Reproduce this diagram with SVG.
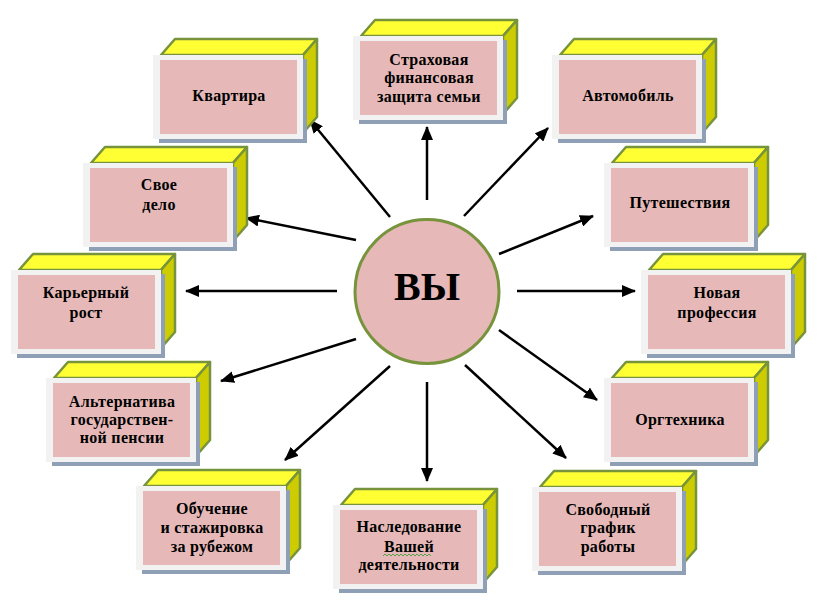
<svg xmlns="http://www.w3.org/2000/svg" xmlns:xlink="http://www.w3.org/1999/xlink" width="824" height="606" viewBox="0 0 824 606">
<style>
.top{fill:#ffff33;stroke:#77933c;stroke-width:2.5;stroke-linejoin:round}
.side{fill:#cccc00;stroke:#77933c;stroke-width:2.5;stroke-linejoin:round}
.shadow{fill:#8f9fb5}
.frame{fill:#f2f2f2}
.inner{fill:#e6b9b8}
.lbl{font-family:"Liberation Serif","Times New Roman",serif;font-weight:bold;font-size:16px;fill:#000;text-anchor:middle;letter-spacing:0.3px}
.arrow{stroke:#000;stroke-width:2.5;fill:none;marker-end:url(#ah)}
</style>
<defs>
<marker id="ah" markerUnits="userSpaceOnUse" markerWidth="14" markerHeight="12" refX="13" refY="6" orient="auto">
<path d="M0,0 L14,6 L0,12 Z" fill="#000"/>
</marker>
<g id="box">
<path class="top" d="M8,0 L22,-16 L164,-16 L150,0 Z"/>
<path class="side" d="M150,0 L164,-16 L164,62 L150,78 Z"/>
<rect class="shadow" x="6" y="4" width="148" height="84"/>
<rect class="frame" x="0" y="0" width="150" height="84"/>
<rect class="inner" x="7" y="5" width="137" height="74"/>
</g>
</defs>
<rect width="824" height="606" fill="#fff"/>

<g id="connectors">
<line class="arrow" x1="390" y1="217" x2="310" y2="120"/>
<line class="arrow" x1="427" y1="200" x2="427" y2="127"/>
<line class="arrow" x1="464" y1="216" x2="548" y2="128"/>
<line class="arrow" x1="356" y1="240" x2="246" y2="218"/>
<line class="arrow" x1="499" y1="254" x2="593" y2="216"/>
<line class="arrow" x1="337" y1="291" x2="186" y2="291"/>
<line class="arrow" x1="517" y1="291" x2="635" y2="291"/>
<line class="arrow" x1="356" y1="339" x2="221" y2="381"/>
<line class="arrow" x1="499" y1="330" x2="597" y2="400"/>
<line class="arrow" x1="390" y1="366" x2="285" y2="460"/>
<line class="arrow" x1="427" y1="382" x2="427" y2="481"/>
<line class="arrow" x1="465" y1="365" x2="566" y2="458"/>
</g>

<g id="center">
<circle cx="427" cy="291.5" r="72" fill="#e6b9b8" stroke="#77933c" stroke-width="3"/>
<text x="427" y="300" font-family="'Liberation Serif','Times New Roman',serif" font-weight="bold" font-size="40" text-anchor="middle">ВЫ</text>
</g>

<g id="kvartira" transform="translate(153,55)">
<use href="#box"/>
<text class="lbl" x="76" y="46">Квартира</text>
</g>
<g id="strakhovaya" transform="translate(353,36)">
<use href="#box"/>
<text class="lbl" x="76" y="29">Страховая</text>
<text class="lbl" x="76" y="47">финансовая</text>
<text class="lbl" x="76" y="66">защита семьи</text>
</g>
<g id="avtomobil" transform="translate(552,55)">
<use href="#box"/>
<text class="lbl" x="76" y="46">Автомобиль</text>
</g>
<g id="svoe-delo" transform="translate(83,163)">
<use href="#box"/>
<text class="lbl" x="76" y="27">Свое</text>
<text class="lbl" x="76" y="47">дело</text>
</g>
<g id="puteshestviya" transform="translate(604,163)">
<use href="#box"/>
<text class="lbl" x="76" y="45">Путешествия</text>
</g>
<g id="karerny-rost" transform="translate(11,270)">
<use href="#box"/>
<text class="lbl" x="75" y="28">Карьерный</text>
<text class="lbl" x="75" y="48">рост</text>
</g>
<g id="novaya-professiya" transform="translate(641,270)">
<use href="#box"/>
<text class="lbl" x="76" y="28">Новая</text>
<text class="lbl" x="76" y="48">профессия</text>
</g>
<g id="alternativa" transform="translate(46,378)">
<use href="#box"/>
<text class="lbl" x="76" y="29">Альтернатива</text>
<text class="lbl" x="76" y="47">государствен-</text>
<text class="lbl" x="76" y="65">ной пенсии</text>
</g>
<g id="orgtekhnika" transform="translate(604,378)">
<use href="#box"/>
<text class="lbl" x="76" y="47">Оргтехника</text>
</g>
<g id="obuchenie" transform="translate(136,486)">
<use href="#box"/>
<text class="lbl" x="76" y="28">Обучение</text>
<text class="lbl" x="76" y="47">и стажировка</text>
<text class="lbl" x="76" y="66">за рубежом</text>
</g>
<g id="nasledovanie" transform="translate(333,505)">
<use href="#box"/>
<text class="lbl" x="76" y="27">Наследование</text>
<text class="lbl" x="76" y="47">Вашей</text>
<path d="M50,51 l2,-2 l2,2 l2,-2 l2,2 l2,-2 l2,2 l2,-2 l2,2 l2,-2 l2,2 l2,-2 l2,2 l2,-2 l2,2 l2,-2 l2,2 l2,-2 l2,2 l2,-2 l2,2 l2,-2 l2,2 l2,-2 l2,2" fill="none" stroke="#2e9a2e" stroke-width="0.8"/>
<text class="lbl" x="76" y="65">деятельности</text>
</g>
<g id="svobodny-grafik" transform="translate(532,487)">
<use href="#box"/>
<text class="lbl" x="76" y="28">Свободный</text>
<text class="lbl" x="76" y="46">график</text>
<text class="lbl" x="76" y="65">работы</text>
</g>
</svg>
